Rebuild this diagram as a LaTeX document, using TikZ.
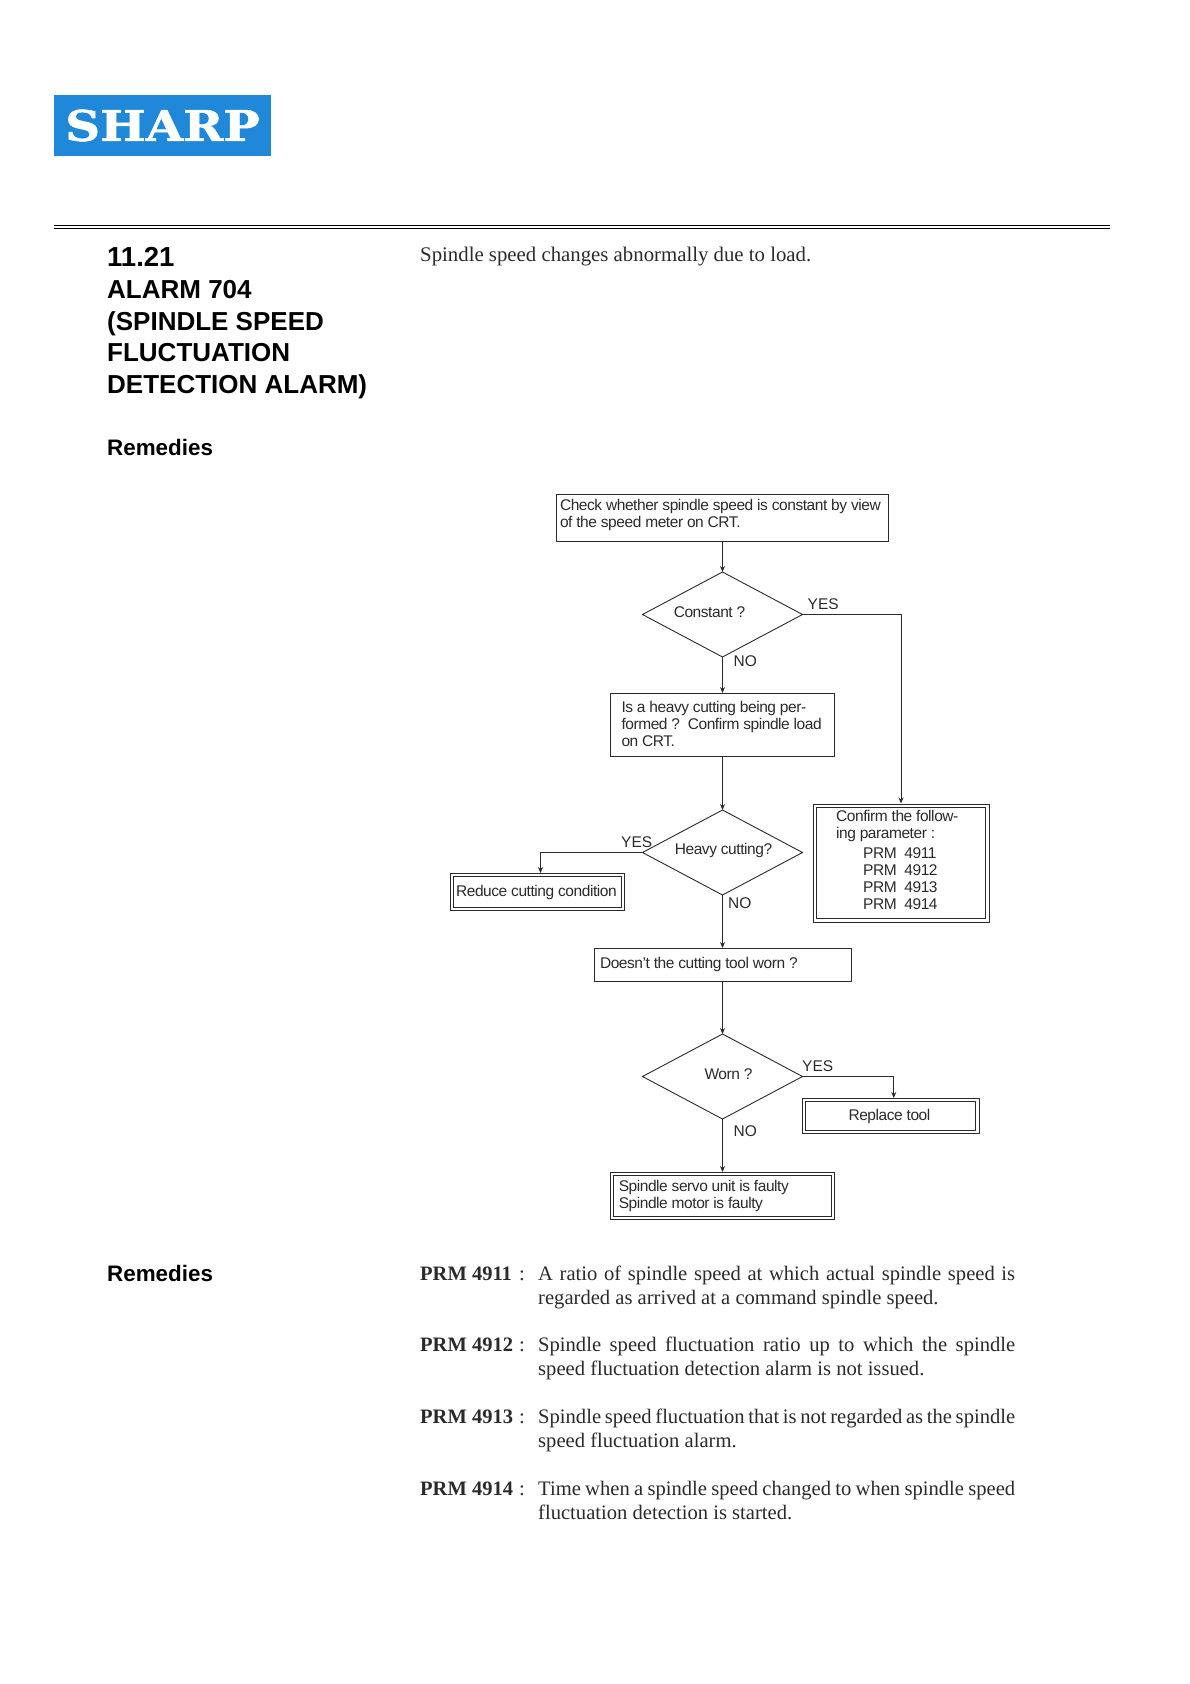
\documentclass[tikz,border=0pt]{standalone}
\usepackage{fontspec}
\setmainfont{Liberation Serif}
\setsansfont{Liberation Sans}
\newfontfamily\logofont[BoldFeatures={FakeBold=1.2}]{DejaVu Serif}
\newfontfamily\flowfont[LetterSpace=-2.8, WordSpace=1]{Liberation Sans}
\usetikzlibrary{shapes.geometric, arrows.meta}

\definecolor{sharpblue}{HTML}{2088D8}
\definecolor{inkgrey}{HTML}{2A2A2A}
\newcommand{\liftby}[1]{\par\vspace*{#1}}

\tikzset{
    flowtext/.style={text=inkgrey, font=\flowfont\fontsize{15.5}{17}\selectfont},
    flowbox/.style={flowtext, draw=inkgrey, line width=0.9pt, align=flush left, outer sep=0pt},
    endbox/.style={flowbox, line width=1pt, double, double distance=2.2pt, outer sep=2.1pt},
    decision/.style={diamond, draw=inkgrey, line width=0.9pt, inner sep=0pt, outer sep=0pt,
        minimum width=160pt, minimum height=85pt},
    flowlabel/.style={anchor=base west, inner sep=0pt, text=inkgrey,
        font=\sffamily\fontsize{15.5}{17}\selectfont},
    flowline/.style={draw=inkgrey, line width=0.9pt},
    headtext/.style={anchor=base west, inner sep=0pt, align=left, text=black,
        font=\sffamily\bfseries\fontsize{26}{31.7}\selectfont},
    sidehead/.style={anchor=base west, inner sep=0pt, text=black,
        font=\sffamily\bfseries\fontsize{22.4}{26}\selectfont},
    bodytext/.style={anchor=base west, inner sep=0pt, text=inkgrey,
        font=\fontsize{20.6}{24}\selectfont},
}

\begin{document}
\begin{tikzpicture}[x=1pt, y=-1pt, >={Stealth[length=6pt, width=5pt]}]
    \useasboundingbox (0,0) rectangle (1190,1684);

    % Draw logo and header rule
    \node[fill=sharpblue, minimum width=188.7pt, minimum height=61pt, inner sep=0pt, outer sep=0pt,
        text=white, font=\logofont\bfseries\fontsize{42}{42}\selectfont, xscale=1.15] (logo) at (162.5,125.5) {SHARP};
    \draw[line width=1.2pt] (54,225.6) -- (1110,225.6);
    \draw[line width=1pt] (54,228.7) -- (1110,228.7);

    % Draw headings
    \node[headtext] (title) at (107,393.6) {{\fontsize{27.5}{31.7}\selectfont 11.21}\\ALARM 704\\(SPINDLE SPEED\\FLUCTUATION\\DETECTION ALARM)};
    \node[sidehead] (remedies) at (107,455.7) {Remedies};
    \node[bodytext, font=\fontsize{20.8}{24}\selectfont] (intro) at (420,261) {Spindle speed changes abnormally due to load.};

    % Draw process boxes
    \node[flowbox, minimum width=331.5pt, minimum height=47pt, text width=325pt, inner xsep=3.25pt] (check) at (722.5,517.5)
        {Check whether spindle speed is constant by view\\of the speed meter on CRT.\liftby{4.3pt}};
    \node[flowbox, minimum width=224.5pt, minimum height=63pt, text width=202pt, inner xsep=11pt] (load) at (722.5,724.5)
        {Is a heavy cutting being per-\\formed ?\ \ Confirm spindle load\\on CRT.\liftby{2pt}};
    \node[flowbox, minimum width=257pt, minimum height=33pt, text width=245pt, inner xsep=6pt] (tool) at (722.5,964.5)
        {Doesn’t the cutting tool worn ?};

    % Draw decisions
    \node[decision, label={[flowtext, xshift=-13pt, yshift=2.5pt]center:Constant ?}] (constant) at (722.5,614.5) {};
    \node[decision, label={[flowtext, xshift=1pt, yshift=2.5pt]center:Heavy cutting?}] (heavy) at (722.5,852.5) {};
    \node[decision, label={[flowtext, xshift=6pt, yshift=2.5pt]center:Worn ?}] (worn) at (722.5,1076.5) {};

    % Draw end boxes
    \node[endbox, minimum width=172.8pt, minimum height=114.8pt, text width=129.8pt, inner xsep=21.5pt] (confirm) at (901,863)
        {Confirm the follow-\\ing parameter :\\[3pt]\hspace*{27pt}PRM\ \ 4911\\\hspace*{27pt}PRM\ \ 4912\\\hspace*{27pt}PRM\ \ 4913\\\hspace*{27pt}PRM\ \ 4914\liftby{7pt}};
    \node[endbox, minimum width=171.6pt, minimum height=33.8pt, text width=162.8pt, inner xsep=4.4pt] (reduce) at (537.5,892)
        {Reduce cutting condition};
    \node[endbox, minimum width=173.3pt, minimum height=31.8pt, text width=84.5pt, inner xsep=44.4pt] (replace) at (890.75,1116)
        {Replace tool};
    \node[endbox, minimum width=220.3pt, minimum height=43.8pt, text width=207.5pt, inner xsep=6.4pt] (faulty) at (722.5,1196)
        {Spindle servo unit is faulty\\Spindle motor is faulty};

    % Draw connectors
    \draw[flowline, ->] (check) -- (constant);
    \draw[flowline, ->] (constant) -- (load);
    \draw[flowline, ->] (load) -- (heavy);
    \draw[flowline, ->] (heavy) -- (tool);
    \draw[flowline, ->] (tool) -- (worn);
    \draw[flowline, ->] (worn) -- (faulty);
    \draw[flowline, ->] (constant.east) -| (confirm.north);
    \draw[flowline, ->] (heavy.west) -| ([xshift=3pt]reduce.north);
    \draw[flowline, ->] (worn.east) -| ([xshift=3pt]replace.north);

    % Add branch labels
    \node[flowlabel] (yesconstant) at (807.5,609) {YES};
    \node[flowlabel] (noconstant) at (733.5,666) {NO};
    \node[flowlabel] (yesheavy) at (621,847) {YES};
    \node[flowlabel] (noheavy) at (728,908) {NO};
    \node[flowlabel] (yesworn) at (802,1071) {YES};
    \node[flowlabel] (noworn) at (733.5,1136) {NO};

    % Add parameter list
    \node[sidehead] (remedieslist) at (107,1281.7) {Remedies};
    \foreach \y/\num/\lineone/\linetwo in {
        1280.7/4911/{A ratio of spindle speed at which actual spindle speed is}/{regarded as arrived at a command spindle speed.},
        1351.7/4912/{Spindle speed fluctuation ratio up to which the spindle}/{speed fluctuation detection alarm is not issued.},
        1423/4913/{Spindle speed fluctuation that is not regarded as the spindle}/{speed fluctuation alarm.},
        1495/4914/{Time when a spindle speed changed to when spindle speed}/{fluctuation detection is started.}}
    {
        \node[bodytext, font=\bfseries\fontsize{20.5}{24}\selectfont] (prm\num) at (420,\y) {PRM \num};
        \node[bodytext] (colon\num) at (519,\y) {:};
        \node[bodytext, text width=477pt, align=justify] (text\num) at (538,\y) {\lineone\linebreak\linetwo};
    }
\end{tikzpicture}
\end{document}
